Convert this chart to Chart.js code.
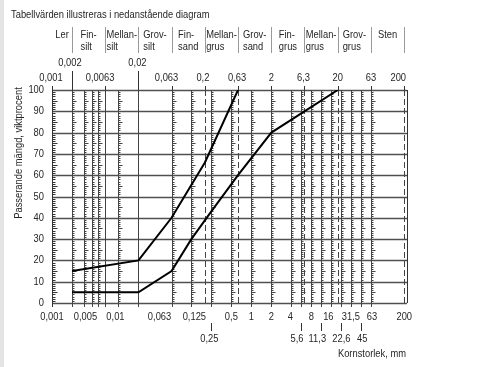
<!DOCTYPE html>
<html><head><meta charset="utf-8">
<script src="https://cdn.jsdelivr.net/npm/chart.js@4/dist/chart.umd.min.js"></script>
<style>html,body{margin:0;padding:0;background:#fff}#wrap{position:relative;width:478px;height:367px}</style>
</head><body><div id="wrap"><canvas id="c" width="478" height="367"></canvas></div>
<script>
// ---- data ----
const upperSizes = [0.002, 0.02, 0.063, 0.2, 0.63];
const upperPassing = [15, 20, 40, 66, 100];
const lowerSizes = [0.002, 0.02, 0.063, 0.125, 0.25, 0.63, 2, 20];
const lowerPassing = [5, 5, 15, 30, 43, 60, 80, 100];

const fractionBounds = [0.001, 0.002, 0.0063, 0.02, 0.063, 0.2, 0.63, 2, 6.3, 20, 63, 200];
const fractionNames = [["Ler"],["Fin-","silt"],["Mellan-","silt"],["Grov-","silt"],["Fin-","sand"],["Mellan-","grus"],["Grov-","sand"],["Fin-","grus"],["Mellan-","grus"],["Grov-","grus"],["Sten"]];

const topRowA = [0.002, 0.02];
const topRowB = [0.001, 0.0063, 0.063, 0.2, 0.63, 2, 6.3, 20, 63, 200];
const bottomRowA = [0.001, 0.005, 0.01, 0.063, 0.125, 0.5, 1, 2, 4, 8, 16, 31.5, 63, 200];
const bottomRowB = [0.25, 5.6, 11.3, 22.6, 45];
const yTicks = [0, 10, 20, 30, 40, 50, 60, 70, 80, 90, 100];

const sieveLines = [0.002, 0.003, 0.004, 0.005, 0.01, 0.063, 0.125, 0.25, 0.5, 1, 2, 4, 5.6, 8, 11.3, 16, 22.6, 31.5, 45, 63];
const plainLines = [0.0063, 0.02];
const dashedLines = [0.2, 0.63, 6.3, 20, 200];

const titleText = "Tabellvärden illustreras i nedanstående diagram";
const yTitle = "Passerande mängd, viktprocent";
const xTitle = "Kornstorlek, mm";

// ---- style / label nudges (pixels) ----
const topShiftA = [-2, -1];
const topShiftB = [-1, -5, -5, -2, -1, 0, -1, 0, 0, -6];
const bottomShiftA = [0, -13, -3, -12, 3, 0, 0, 0, -1, 0, -3, 0, 1, 0];
const bottomShiftB = [-2, -4, -4, 0, 1];

const FONT = '"Liberation Sans", Arial, sans-serif';
const FS = 11, SX = 0.85;
const TXT = '#262626';
const fmt = v => String(v).replace('.', ',');

function text(ctx, s, x, y, align) {
  ctx.save();
  ctx.font = FS + 'px ' + FONT;
  ctx.fillStyle = TXT;
  ctx.textBaseline = 'middle';
  const w = ctx.measureText(s).width * SX;
  let x0 = x;
  if (align === 'center') x0 = x - w / 2;
  else if (align === 'right') x0 = x - w;
  ctx.translate(x0, y);
  ctx.scale(SX, 1);
  ctx.textAlign = 'left';
  ctx.fillText(s, 0, 0);
  ctx.restore();
}
function line(ctx, x1, y1, x2, y2) { ctx.beginPath(); ctx.moveTo(x1, y1); ctx.lineTo(x2, y2); ctx.stroke(); }

const gridPlugin = {
  id: 'sieveGrid',
  beforeDraw(chart) {
    const ctx = chart.ctx;
    ctx.save();
    ctx.fillStyle = '#fff'; ctx.fillRect(0, 0, chart.width, chart.height);
    ctx.fillStyle = '#e4e4e4'; ctx.fillRect(0, 0, 4, chart.height);
    ctx.restore();
  },
  beforeDatasetsDraw(chart) {
    const {ctx, chartArea: a, scales: {x, y}} = chart;
    ctx.save();
    ctx.strokeStyle = '#505050';
    ctx.lineWidth = 1.4;
    yTicks.forEach(v => { const py = Math.round(y.getPixelForValue(v)) + 0.5; line(ctx, a.left, py, a.right, py); });
    ctx.lineWidth = 1;
    ctx.strokeStyle = '#444';
    const ladder = (px, len1, len2) => {
      for (let p = 1; p < 100; p++) {
        if (p % 10 === 0) continue;
        const py = Math.round(y.getPixelForValue(p)) + 0.5;
        line(ctx, px, py, px + (p % 5 === 0 ? len2 : len1), py);
      }
    };
    sieveLines.forEach(v => {
      const px = Math.round(x.getPixelForValue(v)) + 0.5;
      line(ctx, px, a.top, px, a.bottom + 4);
      ladder(px, 2, 4);
    });
    plainLines.forEach(v => {
      const px = Math.round(x.getPixelForValue(v)) + 0.5;
      line(ctx, px, a.top, px, a.bottom + 4);
    });
    ctx.setLineDash([6, 3]);
    dashedLines.forEach(v => {
      const px = Math.round(x.getPixelForValue(v)) + 0.5;
      line(ctx, px, a.top, px, a.bottom);
    });
    ctx.setLineDash([]);
    ctx.strokeStyle = '#333';
    const lx = Math.round(a.left) + 0.5, rx = Math.round(a.right) + 0.5;
    line(ctx, lx, a.top, lx, a.bottom + 4);
    ladder(lx, 3, 5);
    line(ctx, rx, a.top, rx, a.bottom);
    topRowA.forEach(v => { const px = Math.round(x.getPixelForValue(v)) + 0.5; line(ctx, px, 71, px, a.top); });
    topRowB.forEach(v => { const px = Math.round(x.getPixelForValue(v)) + 0.5; line(ctx, px, a.top - 4, px, a.top); });
    bottomRowB.forEach(v => { const px = Math.round(x.getPixelForValue(v)) + 0.5; line(ctx, px, 323, px, 331); });
    ctx.strokeStyle = '#999';
    fractionBounds.slice(1).forEach(v => { const px = Math.round(x.getPixelForValue(v)) + 0.5; line(ctx, px, 27, px, 53); });
    ctx.restore();
  },
  afterDraw(chart) {
    const {ctx, scales: {x, y}} = chart;
    text(ctx, titleText, 11, 15, 'left');
    ctx.save(); ctx.font = FS + 'px ' + FONT;
    fractionNames.forEach((lines, i) => {
      const x0 = x.getPixelForValue(fractionBounds[i]), x1 = x.getPixelForValue(fractionBounds[i + 1]);
      const w = Math.max(...lines.map(s => ctx.measureText(s).width * SX));
      const left = (x0 + x1) / 2 - w / 2;
      lines.forEach((s, j) => text(ctx, s, left, 35 + j * 12, 'left'));
    });
    ctx.restore();
    topRowA.forEach((v, i) => text(ctx, fmt(v), x.getPixelForValue(v) + topShiftA[i], 63, 'center'));
    topRowB.forEach((v, i) => text(ctx, fmt(v), x.getPixelForValue(v) + topShiftB[i], 78, 'center'));
    bottomRowA.forEach((v, i) => text(ctx, fmt(v), x.getPixelForValue(v) + bottomShiftA[i], 317, 'center'));
    bottomRowB.forEach((v, i) => text(ctx, fmt(v), x.getPixelForValue(v) + bottomShiftB[i], 339, 'center'));
    yTicks.forEach(v => text(ctx, String(v), 44, y.getPixelForValue(v), 'right'));
    text(ctx, xTitle, 406, 354, 'right');
    ctx.save();
    ctx.translate(19, 153);
    ctx.rotate(-Math.PI / 2);
    text(ctx, yTitle, 0, 0, 'center');
    ctx.restore();
  }
};

const toPts = (xs, ys) => xs.map((v, i) => ({x: v, y: ys[i]}));

new Chart(document.getElementById('c'), {
  type: 'line',
  data: {
    datasets: [
      {data: toPts(upperSizes, upperPassing), borderColor: '#000', borderWidth: 2, pointRadius: 0, tension: 0, fill: false},
      {data: toPts(lowerSizes, lowerPassing), borderColor: '#000', borderWidth: 2, pointRadius: 0, tension: 0, fill: false}
    ]
  },
  options: {
    responsive: false,
    animation: false,
    devicePixelRatio: 1,
    layout: {padding: {left: 52, top: 90, right: 71, bottom: 64}},
    plugins: {legend: {display: false}, tooltip: {enabled: false}, title: {display: false}},
    scales: {
      x: {type: 'logarithmic', min: 0.001, max: 220, display: false},
      y: {type: 'linear', min: 0, max: 100, display: false}
    }
  },
  plugins: [gridPlugin]
});
</script>
</body></html>
